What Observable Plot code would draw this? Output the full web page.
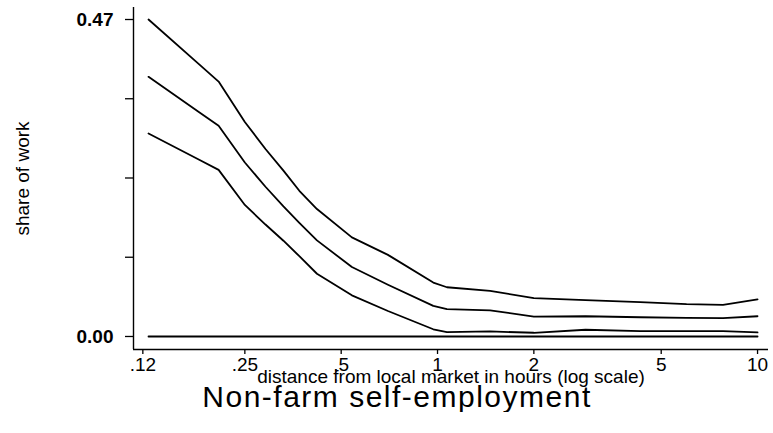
<!DOCTYPE html>
<html><head><meta charset="utf-8">
<script src="https://cdn.jsdelivr.net/npm/d3@7"></script>
<script src="https://cdn.jsdelivr.net/npm/@observablehq/plot@0.6"></script>
<style>
body{margin:0;background:#fff;font-family:"Liberation Sans",Arial,sans-serif;}
#title{font-size:30px;letter-spacing:1.5px;text-align:center;padding-left:21px;margin-top:2px;line-height:30px;color:#000;width:752px}
</style></head><body>
<div id="chart"></div>
<div id="title">Non-farm self-employment</div>
<script>
// distance from local market (hours)
const distance  = [0.125, 0.18, 0.207, 0.25, 0.29, 0.33, 0.37, 0.42, 0.54, 0.7, 0.97, 1.07, 1.46, 2.0, 2.9, 4.3, 6.0, 7.8, 10];
const upperBand = [0.470, 0.4035, 0.378, 0.318, 0.278, 0.246, 0.216, 0.189, 0.147, 0.121, 0.080, 0.073, 0.0675, 0.057, 0.054, 0.051, 0.048, 0.047, 0.055];
const estimate  = [0.385, 0.3326, 0.3125, 0.258, 0.222, 0.193, 0.1686, 0.1425, 0.103, 0.0768, 0.0454, 0.0405, 0.0388, 0.0295, 0.030, 0.0285, 0.0277, 0.0273, 0.030];
const lowerBand = [0.301, 0.262, 0.247, 0.195, 0.166, 0.142, 0.119, 0.093, 0.061, 0.0378, 0.0107, 0.0065, 0.0075, 0.0055, 0.010, 0.008, 0.008, 0.008, 0.006];
const baselineX = [0.125, 10];
const baselineY = [0, 0];

const xTicks = [0.12, 0.25, 0.5, 1, 2, 5, 10];
const xTickLabels = [".12", ".25", ".5", "1", "2", "5", "10"];
const yTicks = [0, 0.1175, 0.235, 0.3525, 0.47];
const yTickLabels = ["0.00", "", "", "", "0.47"];
const xDomain = [0.1122, 10.82];
const yDomain = [-0.0193, 0.4878];

const xLabel = "distance from local market in hours (log scale)";
const yLabel = "share of work";

const rows = [];
distance.forEach((d, i) => {
  rows.push({series: "upper", x: d, y: upperBand[i]});
  rows.push({series: "estimate", x: d, y: estimate[i]});
  rows.push({series: "lower", x: d, y: lowerBand[i]});
});
baselineX.forEach((d, i) => rows.push({series: "zero", x: d, y: baselineY[i]}));

const chart = Plot.plot({
  width: 773,
  height: 380,
  marginLeft: 133,
  marginRight: 5,
  marginTop: 7,
  marginBottom: 31,
  style: {fontFamily: "Liberation Sans, Arial, sans-serif", background: "#fff", color: "#000", overflow: "visible"},
  x: {type: "log", domain: xDomain},
  y: {domain: yDomain},
  marks: [
    Plot.ruleX([xDomain[0]], {stroke: "#000", strokeWidth: 1.4}),
    Plot.ruleY([yDomain[0]], {stroke: "#000", strokeWidth: 1.4}),
    Plot.axisY({
      ticks: yTicks,
      tickFormat: d => yTickLabels[yTicks.indexOf(d)],
      tickSize: 8, tickPadding: 12,
      fontSize: 19, fontWeight: "bold",
      strokeWidth: 1.3,
      label: null
    }),
    Plot.axisY({
      ticks: [],
      tickSize: 0,
      fontSize: 19,
      label: yLabel, labelAnchor: "center", labelOffset: 118, labelArrow: false
    }),
    Plot.axisX({
      ticks: xTicks,
      tickFormat: d => xTickLabels[xTicks.indexOf(d)],
      tickSize: 5, tickPadding: 3,
      fontSize: 19,
      strokeWidth: 1.3,
      label: xLabel, labelAnchor: "center", labelOffset: 33, labelArrow: false
    }),
    Plot.line(rows, {x: "x", y: "y", z: "series", stroke: "#000", strokeWidth: 1.8})
  ]
});
document.getElementById("chart").appendChild(chart);
</script>
</body></html>
